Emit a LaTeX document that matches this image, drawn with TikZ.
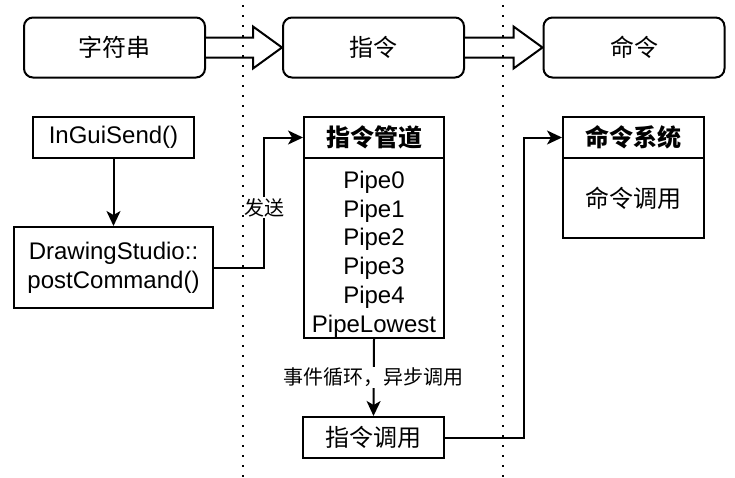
\documentclass[tikz,border=0pt]{standalone}
\usepackage{fontspec}
\setmainfont{Liberation Sans}
\newfontfamily\cjk{Noto Sans CJK SC}
\usetikzlibrary{arrows.meta,calc}
\begin{document}
\begin{tikzpicture}[x=1pt,y=-1pt,
  box/.style={draw, line width=2pt, inner sep=0pt, align=center, font=\fontsize{24}{28.8}\selectfont},
  cjkf/.style={font=\cjk\fontsize{24}{28.8}\selectfont},
  rbox/.style={box, cjkf, rounded corners=9pt, minimum width=181pt, minimum height=60pt},
  conn/.style={line width=2pt, -{Stealth[length=15pt,width=14pt,inset=4pt]}},
  lbl/.style={fill=white, inner sep=1pt, font=\cjk\fontsize{20}{24}\selectfont},
  sepline/.style={line width=2pt, dash pattern=on 2pt off 8pt},
  blk/.style={draw, line width=2pt, fill=white, line join=miter}]
\useasboundingbox (0,0) rectangle (735,477);

% top row
\node[rbox] (s) at (114.5,47.5) {字符串};
\node[rbox] (z) at (373.5,47.5) {指令};
\node[rbox] (m) at (634,47.5) {命令};

\draw[blk] ($(s.east)+(0,-10)$) -- ($(z.west)+(-29,-10)$) -- ($(z.west)+(-29,-21)$) -- (z.west)
  -- ($(z.west)+(-29,21)$) -- ($(z.west)+(-29,10)$) -- ($(s.east)+(0,10)$);
\draw[blk] ($(z.east)+(0,-10)$) -- ($(m.west)+(-29,-10)$) -- ($(m.west)+(-29,-21)$) -- (m.west)
  -- ($(m.west)+(-29,21)$) -- ($(m.west)+(-29,10)$) -- ($(z.east)+(0,10)$);

% left column
\node[box, minimum width=161pt, minimum height=41pt] (g) at (113.5,137.5) {InGuiSend()};
\node[box, minimum width=199pt, minimum height=81pt] (d) at (113.5,267.5) {DrawingStudio::\\postCommand()};

% pipes
\node[box, cjkf, minimum width=140pt, minimum height=41pt] (ph) at (374,137.5) {\bfseries 指令管道};
\node[box, minimum width=140pt, minimum height=180pt] (pb) at (374,248) {};
\node[align=center, inner sep=0pt, font=\fontsize{24}{28.8}\selectfont] (pt) at ($(pb.center)+(0,6)$) {Pipe0\\Pipe1\\Pipe2\\Pipe3\\Pipe4\\PipeLowest};
\node[box, cjkf, minimum width=141pt, minimum height=41pt] (zc) at (373.5,437.5) {指令调用};

% command system
\node[box, cjkf, minimum width=141pt, minimum height=41pt] (mh) at (633.5,137.5) {\bfseries 命令系统};
\node[box, cjkf, minimum width=141pt, minimum height=80pt] (mb) at (633.5,198) {命令调用};

\coordinate (c1) at (264,0);
\coordinate (c2) at (524,0);

\draw[conn] (g) -- (d);
\draw[conn] (d.east) -- (d.east -| c1) |- (ph.west) node[pos=0.23, lbl] {发送};
\draw[conn] (pb.south) -- (zc.north) node[midway, lbl] {事件循环，异步调用};
\draw[conn] (zc.east) -- (zc.east -| c2) |- (mh.west);

% separators
\draw[sepline] (243,5) -- (243,477);
\draw[sepline] (503,5) -- (503,477);
\end{tikzpicture}
\end{document}
